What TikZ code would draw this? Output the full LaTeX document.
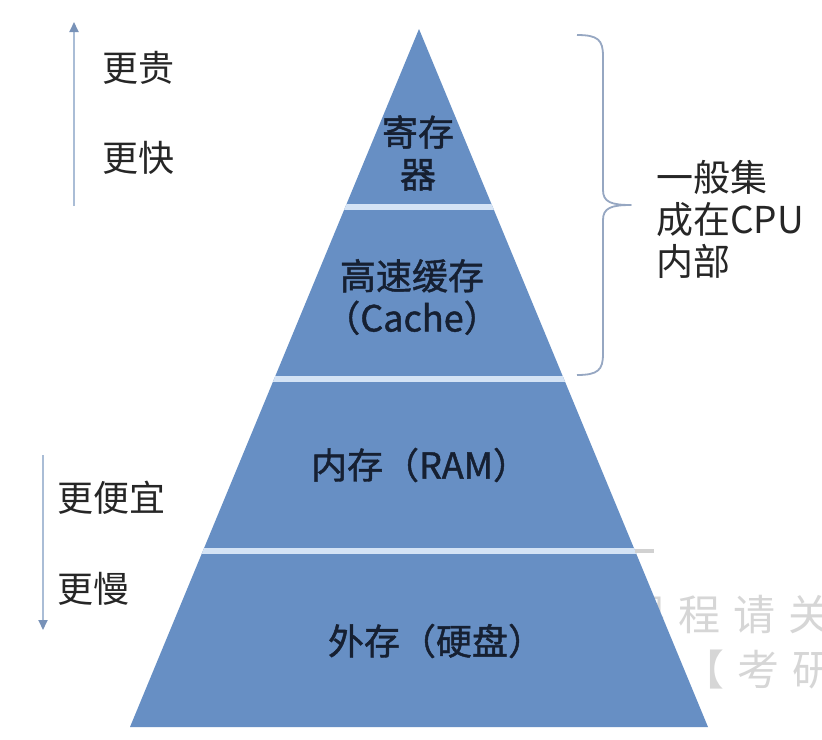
\documentclass[tikz,border=0pt]{standalone}
\usepackage{fontspec}
\newfontfamily\cjk{Noto Sans CJK SC}
\newfontfamily\cjkheavy{Noto Sans CJK SC}[FakeBold=1.2]
\newfontfamily\wmfont{Noto Sans CJK SC}[LetterSpace=31]
\usetikzlibrary{arrows.meta}

\definecolor{pyrfill}{RGB}{103,143,196}
\definecolor{sepblue}{RGB}{212,227,245}
\definecolor{labeltext}{RGB}{22,32,50}
\definecolor{sidetext}{RGB}{38,38,38}
\definecolor{arrowblue}{RGB}{170,189,214}
\definecolor{arrowtip}{RGB}{120,146,184}
\definecolor{bracecol}{RGB}{150,167,194}
\definecolor{wmgray}{RGB}{214,214,214}

\begin{document}
\begin{tikzpicture}[x=1pt,y=-1pt,
  lbl/.style={font=\cjkheavy\fontsize{36}{42}\selectfont, text=labeltext, inner sep=0pt, align=center},
  side/.style={font=\cjk\fontsize{36}{42}\selectfont, text=sidetext, inner sep=0pt, anchor=west},
  level/.style={draw=sepblue, line width=6pt},
  scalearrow/.style={draw=arrowblue, line width=1.8pt,
    -{Triangle[length=10pt,width=9pt,color=arrowtip]}},
  bracket/.style={draw=bracecol, line width=1.8pt, line join=round},
  wm/.style={font=\wmfont\fontsize{42}{48}\selectfont, text=wmgray, inner sep=0pt, anchor=west}
]
\useasboundingbox (0,0) rectangle (822,739);
\fill[white] (0,0) rectangle (822,739);

% faint watermark behind the pyramid
\node[wm] (wm1) at (623,615) {课程请关};
\node[wm] (wm2) at (682,670) {【考研};

% pyramid corners
\coordinate (apex) at (419,29);
\coordinate (bl) at (130,727);
\coordinate (br) at (708,727);

\fill[pyrfill] (apex) -- (br) -- (bl) -- cycle;

% level separators
\begin{scope}
  \clip (apex) -- (br) -- (bl) -- cycle;
  \draw[level] (100,207) -- (740,207);
  \draw[level] (100,379) -- (740,379);
  \draw[level] (100,551) -- (740,551);
\end{scope}
\draw[draw=black!18, line width=4pt] (635,551) -- (654,551);

% level labels
\node[lbl] (reg) at (418,153) {寄存\\器};
\node[lbl] (cache) at (412,297) {高速缓存\\（Cache）};
\node[lbl] (ram) at (420,465) {内存（RAM）};
\node[lbl] (disk) at (436,641) {外存（硬盘）};

% upward scale: cost and speed
\coordinate (upfrom) at (74,206);
\coordinate (upto) at (74,22);
\draw[scalearrow] (upfrom) -- (upto);
\node[side] (dear) at (102,68) {更贵};
\node[side] (fast) at (102,158) {更快};

% downward scale
\coordinate (downfrom) at (43,455);
\coordinate (downto) at (43,630);
\draw[scalearrow] (downfrom) -- (downto);
\node[side] (cheap) at (57,498) {更便宜};
\node[side] (slow) at (57,589) {更慢};

% brace over the top two levels
\coordinate (btop) at (577,35);
\coordinate (btip) at (631,205);
\coordinate (bbot) at (577,375);
\draw[bracket] (btop) .. controls (598,35) and (603,40) .. (603,56)
  -- (603,190) .. controls (603,202) and (611,205) .. (btip)
  .. controls (611,205) and (603,208) .. (603,220)
  -- (603,354) .. controls (603,370) and (598,375) .. (bbot);
\node[side, align=left, font=\cjk\fontsize{37}{42}\selectfont] (cpu) at (656,219) {一般集\\成在CPU\\内部};
\end{tikzpicture}
\end{document}
